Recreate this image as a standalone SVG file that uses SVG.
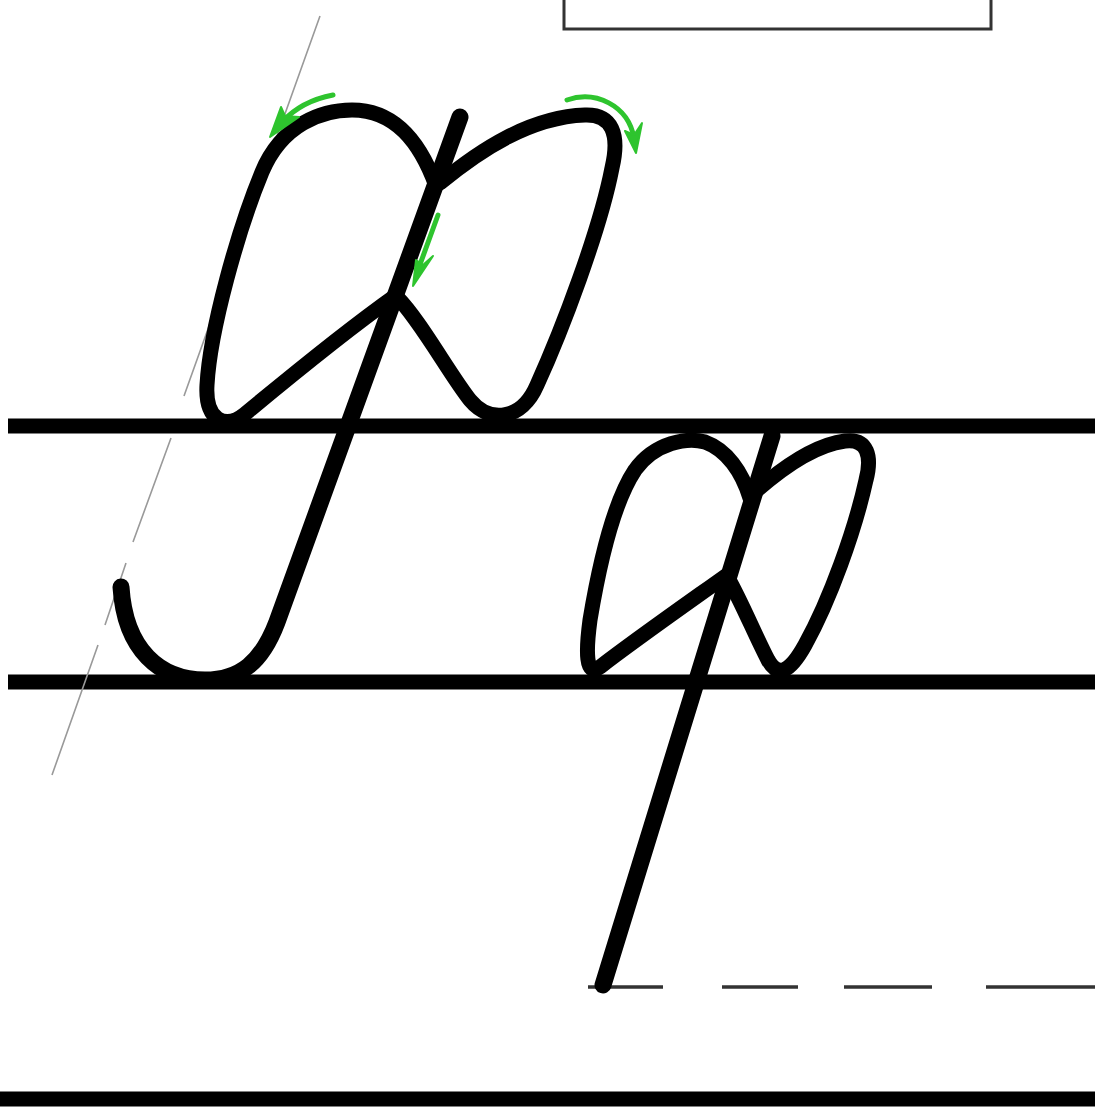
<svg xmlns="http://www.w3.org/2000/svg" width="1095" height="1109" viewBox="0 0 1095 1109">
<style>
.rule{stroke:#000;stroke-width:15;fill:none}
.guide{stroke:#999;stroke-width:1.6;fill:none}
.dash{stroke:#333;stroke-width:3.5;fill:none}
.ink{stroke:#000;stroke-width:15;fill:none;stroke-linecap:round;stroke-linejoin:round}
.stem{stroke:#000;stroke-width:17;fill:none;stroke-linecap:round;stroke-linejoin:round}
.green{stroke:#2ec42e;stroke-width:5;fill:none;stroke-linecap:round;stroke-linejoin:round}
.gfill{fill:#2ec42e;stroke:#2ec42e;stroke-width:2;stroke-linejoin:round}
</style>
<rect width="1095" height="1109" fill="#fff"/>
<g id="frame">
<rect x="564" y="-10" width="427" height="39" fill="none" stroke="#333" stroke-width="3"/>
</g>
<g id="rules">
<line class="rule" x1="8" y1="426" x2="1095" y2="426"/>
<line class="rule" x1="8" y1="682" x2="1095" y2="682"/>
<line class="rule" x1="0" y1="1099" x2="1095" y2="1099"/>
<path class="dash" d="M588 987H663M722 987H798M844 987H932M986 987H1095"/>
</g>
<g id="guide">
<path class="guide" d="M320 16L184 396M171 438L133 542M126 563L105 625M98 645L52 775"/>
</g>
<g id="big-letter">
<path class="ink" d="M395 296C340 335 280 385 245 414C225 430 205 420 207 385C210 330 238 230 262 172C282 124 322 110 352 110C395 110 420 142 436 186"/>
<path class="ink" d="M440 183C480 150 530 117 585 115C612 114 620 134 612 168C600 230 562 330 537 385C522 420 490 424 470 400C450 375 420 320 397 297"/>
<path class="stem" d="M460 117L277 622C262 662 240 680 205 680C160 680 125 650 121 587"/>
</g>
<g id="small-letter">
<path class="ink" d="M727 575C685 605 635 640 600 667C585 678 586 650 590 620C600 560 615 500 635 470C655 442 688 437 705 442C727 450 742 472 750 498"/>
<path class="ink" d="M755 492C782 468 815 445 845 441C868 438 872 457 866 480C855 530 830 600 805 645C790 672 778 678 768 660C755 635 742 603 728 578"/>
<path class="stem" d="M772 436L603 985"/>
</g>
<g id="arrows">
<path class="green" d="M333 95C312 99 295 108 282 122"/>
<path class="gfill" d="M270 137L281 107L285 116L299 117Z"/>
<path class="green" d="M567 100C595 90 628 105 634 138"/>
<path class="gfill" d="M636 153L625 131L634 135L642 123Z"/>
<path class="green" d="M438 215L418 270"/>
<path class="gfill" d="M413 286L416 260L423 265L433 256Z"/>
</g>
</svg>
